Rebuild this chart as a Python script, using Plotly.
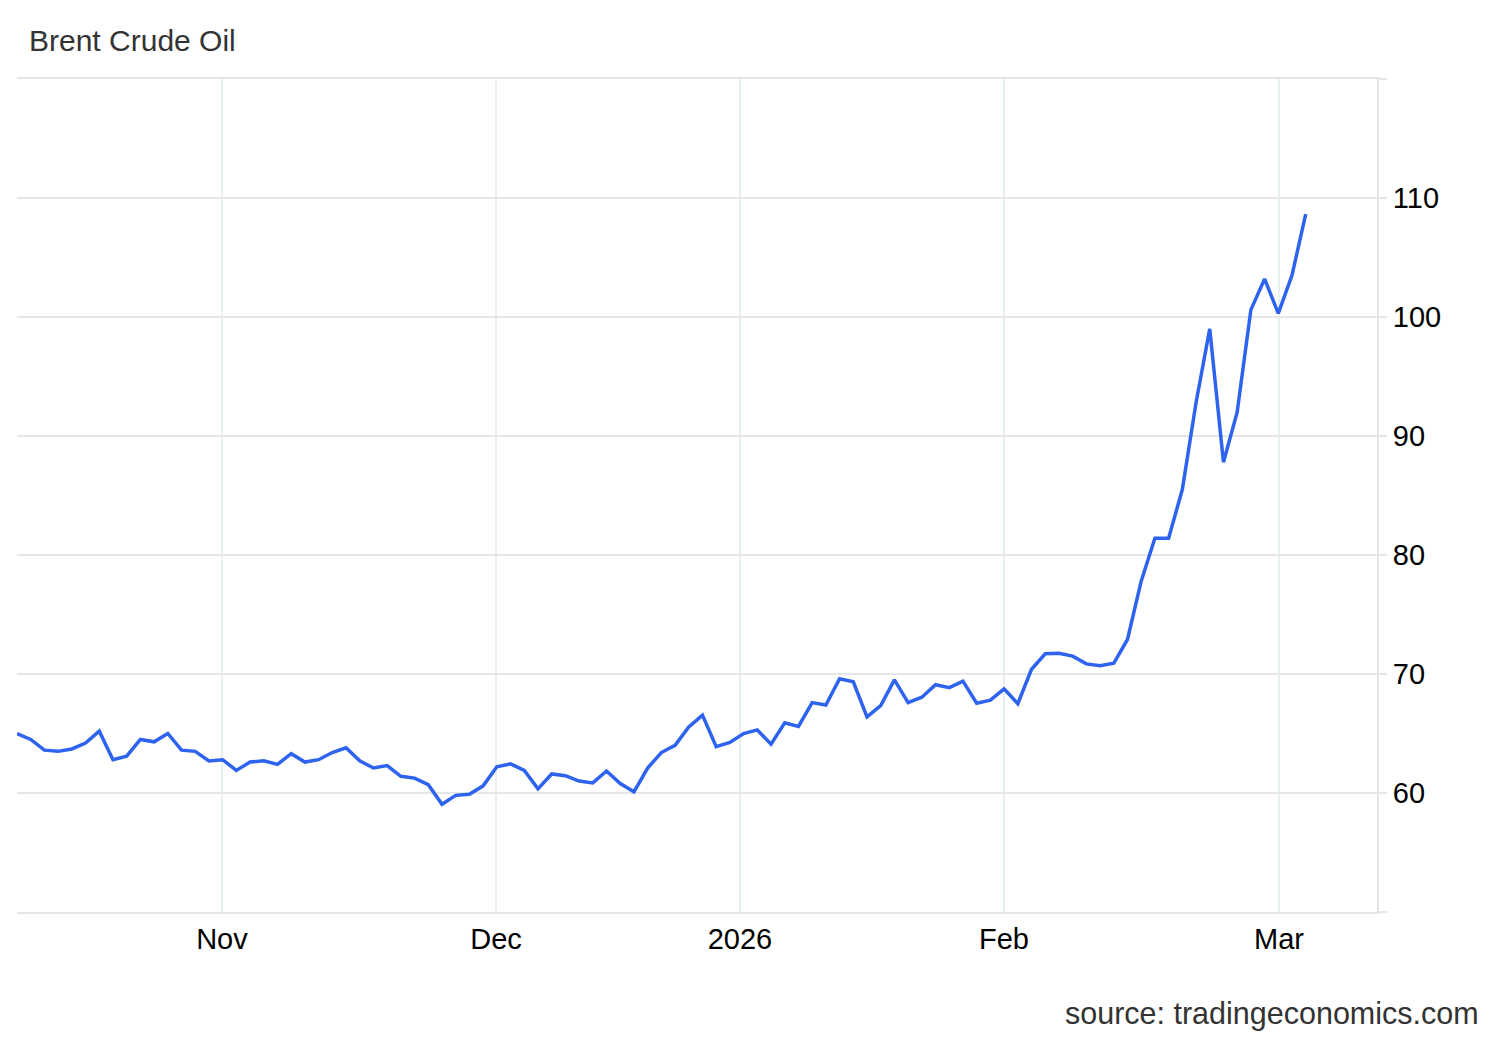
import plotly.graph_objects as go

# Brent crude daily closes (trading days)
prices = [
    65.0, 64.5, 63.6, 63.5, 63.7, 64.2, 65.2, 62.8, 63.1, 64.5,
    64.3, 65.0, 63.6, 63.5, 62.7, 62.8, 61.9, 62.6, 62.7, 62.4,
    63.3, 62.6, 62.8, 63.4, 63.8, 62.7, 62.1, 62.3, 61.4, 61.25,
    60.7, 59.05, 59.8, 59.9, 60.6, 62.2, 62.45, 61.9, 60.35, 61.6,
    61.45, 61.0, 60.85, 61.85, 60.8, 60.1, 62.1, 63.4, 64.0, 65.55,
    66.55, 63.9, 64.25, 65.0, 65.3, 64.1, 65.9, 65.6, 67.6, 67.4,
    69.6, 69.35, 66.4, 67.35, 69.5, 67.6, 68.05, 69.1, 68.85, 69.4,
    67.55, 67.8, 68.75, 67.5, 70.4, 71.7, 71.75, 71.5, 70.85, 70.7,
    70.9, 72.9, 77.8, 81.4, 81.4, 85.5, 92.8, 99.0, 87.8, 92.0,
    100.6, 103.2, 100.3, 103.5, 108.65,
]

# x-axis month labels and where they fall on the trading-day index
month_labels = ["Nov", "Dec", "2026", "Feb", "Mar"]
month_pos = [14.95, 34.94, 52.73, 71.99, 92.05]

# y-axis ticks
y_ticks = [50, 60, 70, 80, 90, 100, 110, 120]
y_labels = ["", "60", "70", "80", "90", "100", "110", ""]

idx = list(range(len(prices)))

fig = go.Figure()
fig.add_trace(go.Scatter(
    x=idx, y=prices, mode="lines",
    line=dict(color="#2d63ef", width=3.5),
    hoverinfo="y",
))

FONT = "Liberation Sans, Arial, Helvetica, sans-serif"

fig.update_layout(
    width=1500, height=1040,
    paper_bgcolor="white", plot_bgcolor="white",
    margin=dict(l=17, r=123, t=79, b=128),
    showlegend=False,
    font=dict(family=FONT, color="#000000", size=29),
    title=dict(
        text="Brent Crude Oil",
        font=dict(family=FONT, size=30, color="#333333"),
        x=29 / 1500, xanchor="left", xref="container",
        y=1 - 40 / 1040, yanchor="middle", yref="container",
    ),
    xaxis=dict(
        range=[0, 99.2],
        tickmode="array", tickvals=month_pos, ticktext=month_labels,
        showgrid=True, gridcolor="#e6f0f0", gridwidth=1.5,
        showline=True, mirror=True, linecolor="#e6e6e6", linewidth=2,
        ticks="", zeroline=False,
        tickfont=dict(family=FONT, size=29, color="#000000"),
        fixedrange=True,
    ),
    yaxis=dict(
        range=[50, 120], side="right",
        tickmode="array", tickvals=y_ticks, ticktext=y_labels,
        showgrid=True, gridcolor="#e6e6e6", gridwidth=1.5,
        showline=True, linecolor="#e6e6e6", linewidth=2,
        ticks="outside", ticklen=8, tickcolor="#e6e6e6", tickwidth=1.5,
        zeroline=False,
        tickfont=dict(family=FONT, size=29, color="#000000"),
        fixedrange=True,
    ),
    annotations=[dict(
        text="source: tradingeconomics.com",
        xref="paper", yref="paper",
        x=(1481 - 17) / 1360, xanchor="right",
        y=(912 - 1014) / 833, yanchor="middle",
        showarrow=False,
        font=dict(family=FONT, size=30.5, color="#333333"),
    )],
)

fig.write_html(
    "out.html",
    config={"displayModeBar": False},
    post_script="document.body.style.margin='0';document.body.style.padding='0';",
)
